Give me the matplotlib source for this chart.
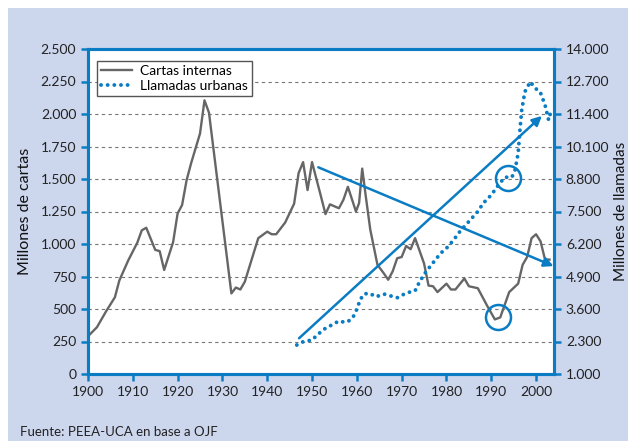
import matplotlib.pyplot as plt
import matplotlib.patches as mpatches

# Cartas internas (millones) - eje izquierdo
anios_cartas = [1900, 1902, 1904, 1906, 1907, 1909, 1911, 1912, 1913, 1915, 1916, 1917,
                1919, 1920, 1921, 1922, 1923, 1924, 1925, 1926, 1927, 1932, 1933, 1934,
                1935, 1938, 1940, 1941, 1942, 1944, 1946, 1947, 1948, 1949, 1950, 1952,
                1953, 1954, 1956, 1957, 1958, 1959.8, 1960.5, 1961.2, 1962, 1963, 1964.6,
                1966, 1967, 1968, 1969, 1970, 1971, 1972, 1973, 1975, 1976, 1977, 1978,
                1980, 1981, 1982, 1984, 1985, 1987, 1989, 1990.8, 1992, 1994, 1996, 1997,
                1998, 1999, 2000, 2001, 2002, 2003]
cartas = [290, 360, 480, 590, 720, 875, 1010, 1105, 1125, 955, 945, 800,
          1015, 1235, 1300, 1490, 1620, 1735, 1850, 2105, 2010, 620, 665, 650,
          710, 1045, 1095, 1075, 1075, 1165, 1310, 1545, 1630, 1415, 1630, 1365,
          1230, 1305, 1275, 1340, 1440, 1250, 1315, 1580, 1365, 1110, 840,
          775, 725, 790, 890, 900, 985, 960, 1045, 850, 680, 675, 630,
          695, 650, 650, 735, 675, 660, 530, 420, 435, 630, 695, 840,
          900, 1045, 1075, 1020, 880, 880]

# Llamadas urbanas (millones) - eje derecho
anios_llamadas = [1946.6, 1948, 1950, 1951.4, 1953, 1954.4, 1956, 1957, 1958, 1959.2,
                  1960.1, 1960.7, 1961.6, 1962.8, 1964.3, 1966, 1967.6, 1969, 1970.5,
                  1972, 1973, 1974, 1975.2, 1976.3, 1977.5, 1978.7, 1980, 1981.5,
                  1983, 1984.5, 1986, 1987, 1988.2, 1990, 1991.6, 1993, 1994.6, 1995.3,
                  1996, 1996.4, 1996.8, 1997.5, 1998.7, 1999.8, 2000.9, 2002, 2002.8,
                  2003.5]
llamadas = [2160, 2290, 2360, 2600, 2830, 2960, 3120, 3080, 3090, 3290,
            3630, 3960, 4200, 4230, 4090, 4200, 4120, 4050, 4190,
            4290, 4330, 4690, 5030, 5290, 5560, 5830, 6030, 6340,
            6700, 7000, 7300, 7500, 7830, 8160, 8560, 8870, 8870, 9160,
            9830, 10760, 11560, 12290, 12690, 12430, 12290, 11760, 11160,
            11630]

# flechas de tendencia (eje izquierdo) y círculos
flecha_sube = [(1947.1, 275), (2001.3, 1985)]
flecha_baja = [(1951.4, 1590), (2003.9, 830)]
circulos = [(1993.8, 1508), (1991.5, 441)]

ticks_izq = [0, 250, 500, 750, 1000, 1250, 1500, 1750, 2000, 2250, 2500]
etiq_izq = ["0", "250", "500", "750", "1.000", "1.250", "1.500", "1.750",
            "2.000", "2.250", "2.500"]
ticks_der = [1000, 2300, 3600, 4900, 6200, 7500, 8800, 10100, 11400, 12700, 14000]
etiq_der = ["1.000", "2.300", "3.600", "4.900", "6.200", "7.500", "8.800",
            "10.100", "11.400", "12.700", "14.000"]
ticks_x = list(range(1900, 2001, 10))

azul = "#0a7cc4"
gris = "#666666"
fondo = "#ccd6ed"

plt.rcParams['font.family'] = ['Lato', 'DejaVu Sans']

fig = plt.figure(figsize=(6.28, 4.41), dpi=100)
fig.patch.set_facecolor("white")
fig.patches.append(mpatches.Rectangle((8 / 628, 0), 1, 1 - 8 / 441,
                                      transform=fig.transFigure,
                                      facecolor=fondo, edgecolor="none", zorder=-10))

ax = fig.add_axes([88 / 628, 1 - 374 / 441, (554 - 88) / 628, (374 - 49) / 441])
ax.set_facecolor("white")
ax2 = ax.twinx()

ax.set_xlim(1900, 2004)
ax.set_ylim(0, 2500)
ax2.set_ylim(1000, 14000)

for t in ticks_izq[1:-1]:
    ax.axhline(t, color="#777777", linestyle=(0, (3, 3)), linewidth=0.8, zorder=1)

l1, = ax.plot(anios_cartas, cartas, color=gris, linewidth=1.7, zorder=3,
              label="Cartas internas")
l2, = ax2.plot(anios_llamadas, llamadas, color=azul, linewidth=2.8,
               linestyle=(0, (0.01, 1.7)), dash_capstyle="round", zorder=3,
               label="Llamadas urbanas")

for (x0, y0), (x1, y1) in [flecha_sube, flecha_baja]:
    ax.annotate("", xy=(x1, y1), xytext=(x0, y0),
                arrowprops=dict(arrowstyle="-|>", color=azul, lw=1.8,
                                mutation_scale=14, shrinkA=0, shrinkB=0),
                zorder=4)
for cx, cy in circulos:
    ax.plot(cx, cy, marker="o", markersize=18, markerfacecolor="none",
            markeredgecolor=azul, markeredgewidth=1.8, zorder=4)

ax.set_xticks(ticks_x)
ax.set_xticklabels([str(t) for t in ticks_x])
ax.set_yticks(ticks_izq)
ax.set_yticklabels(etiq_izq)
ax2.set_yticks(ticks_der)
ax2.set_yticklabels(etiq_der)

for a in (ax, ax2):
    for s in a.spines.values():
        s.set_color(azul)
        s.set_linewidth(2.2)
    a.tick_params(colors=azul, labelcolor="#222222", width=1.8, length=5,
                  labelsize=10, direction="out")

ax.set_ylabel("Millones de cartas", fontsize=11.5, color="#111111", labelpad=6)
ax2.set_ylabel("Millones de llamadas", fontsize=11, color="#111111", labelpad=3)

leg = ax.legend(handles=[l1, l2], loc="upper left", fontsize=10,
                bbox_to_anchor=(0.005, 0.985), handlelength=2.2,
                fancybox=False, framealpha=1, borderpad=0.3,
                labelspacing=0.2, handletextpad=0.6)
leg.get_frame().set_edgecolor("#555555")
leg.get_frame().set_linewidth(1.0)

fig.text(20 / 628, 1 - 432 / 441, "Fuente: PEEA-UCA en base a OJF",
         fontsize=9.5, color="#222222", va="center")

fig.savefig("out.png", dpi=100)
